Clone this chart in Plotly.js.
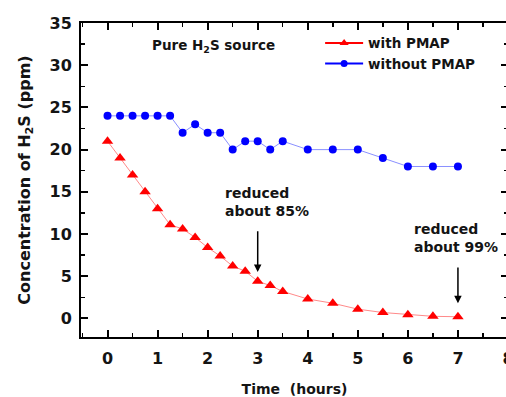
<!DOCTYPE html>
<html>
<head>
<meta charset="utf-8">
<script src="https://cdn.plot.ly/plotly-3.0.1.min.js"></script>
<style>
html,body{margin:0;padding:0;overflow:hidden;background:#fff;}
#chart{width:510px;height:397px;}
</style>
</head>
<body>
<div id="chart"></div>
<script>
// Time (hours)
const timeHours = [0, 0.25, 0.5, 0.75, 1, 1.25, 1.5, 1.75, 2, 2.25, 2.5, 2.75, 3, 3.25, 3.5, 4, 4.5, 5, 5.5, 6, 6.5, 7];
// H2S concentration (ppm) with PMAP
const withPMAP = [21, 19, 17, 15, 13, 11.1, 10.6, 9.6, 8.4, 7.4, 6.2, 5.6, 4.4, 3.9, 3.2, 2.3, 1.8, 1.1, 0.7, 0.45, 0.25, 0.2];
// H2S concentration (ppm) without PMAP
const withoutPMAP = [24, 24, 24, 24, 24, 24, 22, 23, 22, 22, 20, 21, 21, 20, 21, 20, 20, 20, 19, 18, 18, 18];
const seriesNames = ["with PMAP", "without PMAP"];
const xTicks = [0, 1, 2, 3, 4, 5, 6, 7, 8];
const yTicks = [0, 5, 10, 15, 20, 25, 30, 35];

const FONT = "DejaVu Sans";
const TXT = "#141414";

const traces = [
  {x: timeHours, y: withPMAP, mode: "lines+markers", showlegend: false,
   line: {color: "#ff8a8a", width: 1}, marker: {symbol: "triangle-up", size: 10, color: "#ff0000"}},
  {x: timeHours, y: withoutPMAP, mode: "lines+markers", showlegend: false,
   line: {color: "#8a90ff", width: 1}, marker: {symbol: "circle", size: 8, color: "#0000ff"}},
  {x: [null], y: [null], name: seriesNames[0], mode: "lines+markers",
   line: {color: "#ff0000", width: 2}, marker: {symbol: "triangle-up", size: 8, color: "#ff0000"}},
  {x: [null], y: [null], name: seriesNames[1], mode: "lines+markers",
   line: {color: "#0000ff", width: 2}, marker: {symbol: "circle", size: 7, color: "#0000ff"}}
];

const axisCommon = {
  showline: true, linecolor: "#000", linewidth: 2, mirror: "allticks",
  ticks: "inside", ticklen: 7, tickwidth: 2, tickcolor: "#000",
  showgrid: false, zeroline: false, ticklabeloverflow: "allow",
  tickfont: {family: FONT, size: 16, color: TXT, weight: 700}
};

const layout = {
  width: 510, height: 397,
  margin: {l: 81, r: 1.5, t: 23, b: 60},
  paper_bgcolor: "#fff", plot_bgcolor: "#fff",
  font: {family: FONT, color: TXT},
  xaxis: Object.assign({}, axisCommon, {
    range: [-0.53, 8], tickvals: xTicks, ticktext: xTicks.map(String),
    minor: {dtick: 0.5, tick0: 0, ticks: "inside", ticklen: 4, tickwidth: 1.5, tickcolor: "#000"},
    ticklabelstandoff: 6,
    title: {text: "Time  (hours)", font: {family: FONT, size: 14, color: TXT, weight: 700}, standoff: 17}
  }),
  yaxis: Object.assign({}, axisCommon, {
    range: [-2.2, 35], tickvals: yTicks, ticktext: yTicks.map(String),
    minor: {dtick: 2.5, tick0: 0, ticks: "inside", ticklen: 4, tickwidth: 1.5, tickcolor: "#000"},
    ticklabelstandoff: 4,
    title: {text: "Concentration of H<sub>2</sub>S (ppm)", font: {family: FONT, size: 16, color: TXT, weight: 700}, standoff: 15}
  }),
  legend: {x: 0.56, y: 0.985, xanchor: "left", yanchor: "top", bgcolor: "rgba(0,0,0,0)",
           font: {family: FONT, size: 13.5, color: TXT, weight: 700}, itemwidth: 38, tracegroupgap: 0},
  annotations: [
    {x: 2.12, y: 32.3, xref: "x", yref: "y", text: "Pure H<sub>2</sub>S source", showarrow: false,
     font: {family: FONT, size: 13.5, color: TXT, weight: 700}},
    {x: 2.3, y: 13.8, xref: "x", yref: "y", xanchor: "left", align: "left", text: "reduced<br>about 85%", showarrow: false,
     font: {family: FONT, size: 14, color: TXT, weight: 700}},
    {x: 6.09, y: 9.5, xref: "x", yref: "y", xanchor: "left", align: "left", text: "reduced<br>about 99%", showarrow: false,
     font: {family: FONT, size: 14, color: TXT, weight: 700}},
    {x: 3, y: 5.5, ax: 3, ay: 10.5, xref: "x", yref: "y", axref: "x", ayref: "y", text: "", showarrow: true,
     arrowhead: 2, arrowsize: 1, arrowwidth: 1.5, arrowcolor: "#000"},
    {x: 7, y: 1.8, ax: 7, ay: 6.2, xref: "x", yref: "y", axref: "x", ayref: "y", text: "", showarrow: true,
     arrowhead: 2, arrowsize: 1, arrowwidth: 1.5, arrowcolor: "#000"}
  ]
};

Plotly.newPlot("chart", traces, layout, {displayModeBar: false, staticPlot: true});
</script>
</body>
</html>
